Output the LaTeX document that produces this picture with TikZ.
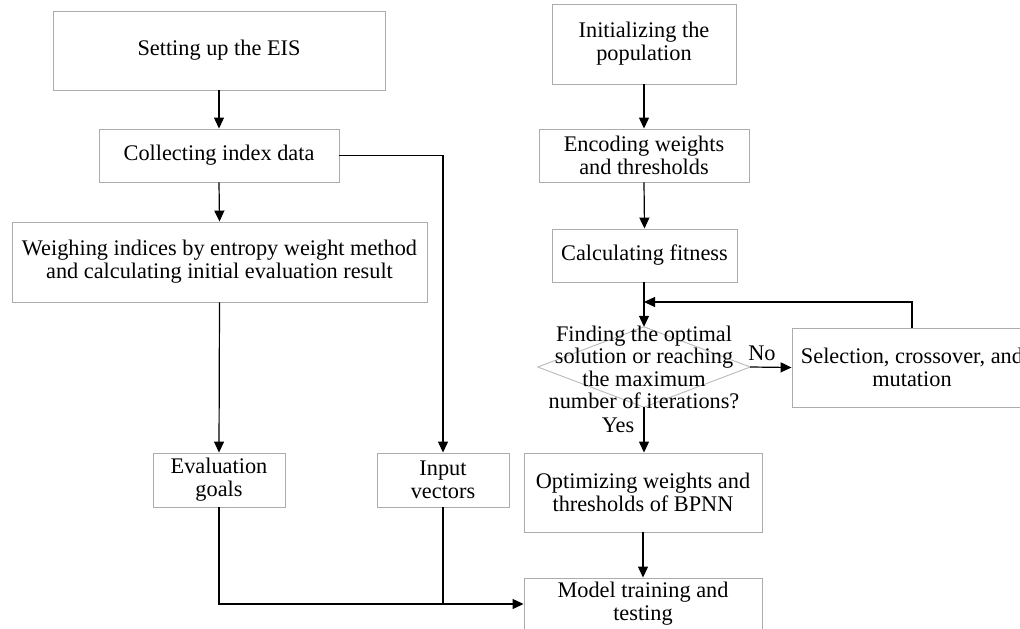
\documentclass[tikz,border=0pt]{standalone}
\usepackage{fontspec}
\setmainfont{Liberation Serif}
\usetikzlibrary{arrows.meta}
\tikzset{
 box/.style={draw=gray!65, line width=0.9pt, inner sep=0pt, align=center, font=\fontsize{22.3}{22.8}\selectfont},
 arr/.style={line width=1.2pt, -{Triangle[length=11pt,width=10pt]}},
 ln/.style={line width=1.2pt},
 lbl/.style={font=\fontsize{22.3}{22.5}\selectfont, inner sep=0pt, align=center},
 dia/.style={draw=gray!55, line width=0.9pt}
}
\begin{document}
\begin{tikzpicture}[x=1pt,y=-1pt]
\useasboundingbox (0,0) rectangle (1020,629);
% left column
\node[box, minimum width=332, minimum height=79] (eis) at (219,50.5) {Setting up the EIS};
\node[box, minimum width=240, minimum height=53] (col) at (219,155.5) {Collecting index data};
\node[box, minimum width=415, minimum height=80] (wei) at (219.5,262) {Weighing indices by entropy weight method\\and calculating initial evaluation result};
\node[box, minimum width=132, minimum height=54] (eval) at (219,480) {Evaluation\\goals};
\node[box, minimum width=132, minimum height=54] (inp) at (443,480) {Input\\vectors};
% right column
\node[box, minimum width=184, minimum height=80] (init) at (644,44) {Initializing the\\population};
\node[box, minimum width=210, minimum height=53] (enc) at (644,155.5) {Encoding weights\\and thresholds};
\node[box, minimum width=185, minimum height=53] (fit) at (644.5,255.5) {Calculating fitness};
\node[minimum width=212, minimum height=80, inner sep=0pt] (dec) at (644,367) {};
\draw[dia] (dec.west) -- (dec.north) -- (dec.east) -- (dec.south) -- cycle;
\node[lbl] (dect) at (644,367.5) {Finding the optimal\\solution or reaching\\the maximum\\number of iterations?};
\node[box, minimum width=240, minimum height=79] (sel) at (912,367.5) {Selection, crossover, and\\mutation};
\node[box, minimum width=238, minimum height=79] (opt) at (643,492.5) {Optimizing weights and\\thresholds of BPNN};
\node[box, minimum width=238, minimum height=52] (mod) at (643,604) {Model training and\\testing};
% labels
\node[lbl] (no) at (762,353) {No};
\node[lbl] (yes) at (618,425) {Yes};
% connectors
\draw[arr] (eis.south) -- (col.north);
\draw[arr] (col.south) -- (wei.north);
\draw[arr] (wei.south) -- (eval.north);
\draw[arr] (col.east) -| (inp.north);
\draw[arr] (eval.south) |- (mod.west);
\draw[ln] (inp.south) -- (inp.south |- mod.west);
\draw[arr] (init.south) -- (enc.north);
\draw[arr] (enc.south) -- (fit.north);
\draw[arr] (fit.south -| dec.north) -- (dec.north);
\draw[arr] (dec.east) -- (sel.west);
\coordinate (lp) at (644,302);
\draw[arr] (sel.north) |- (lp);
\draw[arr] (dec.south) -- (dec.south |- opt.north);
\draw[arr] (opt.south) -- (opt.south |- mod.north);
\end{tikzpicture}
\end{document}
